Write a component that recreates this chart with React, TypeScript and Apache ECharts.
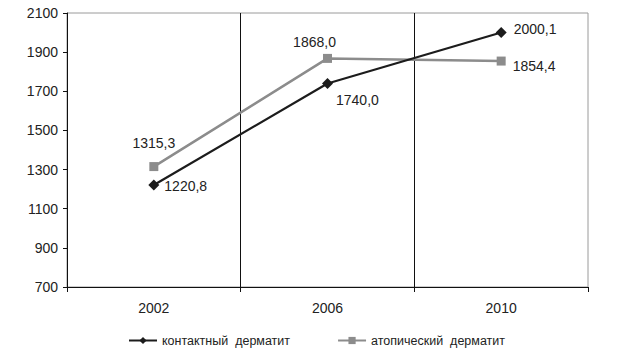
import React, { useEffect, useRef } from "react";
import * as echarts from "echarts";

const years = ["2002", "2006", "2010"];
const contactValues = [1220.8, 1740.0, 2000.1];
const atopicValues = [1315.3, 1868.0, 1854.4];
const seriesNames = ["контактный  дерматит", "атопический  дерматит"];
const yMin = 700;
const yMax = 2100;
const yStep = 200;

const fmt = (v: number) => v.toFixed(1).replace(".", ",");

export default function App() {
  const ref = useRef<HTMLDivElement>(null);
  useEffect(() => {
    if (!ref.current) return;
    const chart = echarts.init(ref.current, undefined, { renderer: "svg" });
    const black = "#1c1c1c";
    const gray = "#8c8c8c";
    const font = "'Liberation Sans', Arial, sans-serif";
    const contactLabels = [
      { position: "right", offset: [0, 1] },
      { position: "right", offset: [-2, 17] },
      { position: "right", offset: [2, -4] },
    ];
    const atopicLabels = [
      { position: "top", offset: [0, -7] },
      { position: "top", offset: [-13, 0] },
      { position: "right", offset: [2, 5] },
    ];
    const mk = (vals: number[], labels: any[]) =>
      vals.map((v, i) => ({
        value: v - yMin,
        orig: v,
        label: { ...labels[i] },
      }));
    chart.setOption({
      animation: false,
      backgroundColor: "#ffffff",
      textStyle: { fontFamily: font },
      grid: {
        left: 67,
        right: 32,
        top: 13,
        bottom: 69,
        show: true,
        borderColor: "#9a9a9a",
        borderWidth: 1,
      },
      legend: {
        left: 128,
        bottom: 9,
        padding: 0,
        itemWidth: 28,
        itemHeight: 9,
        itemGap: 47,
        textStyle: { fontSize: 12.5, color: "#222", fontFamily: font },
        data: seriesNames,
      },
      xAxis: {
        type: "category",
        data: years,
        boundaryGap: true,
        axisLine: { lineStyle: { color: "#111", width: 1 } },
        axisTick: { show: true, length: 5, lineStyle: { color: "#111" } },
        axisLabel: { color: "#222", fontSize: 14, margin: 14, fontFamily: font },
        splitLine: {
          show: true,
          showMinLine: false,
          showMaxLine: false,
          lineStyle: { color: "#111", width: 1 },
        },
      },
      yAxis: {
        type: "value",
        min: 0,
        max: yMax - yMin,
        interval: yStep,
        axisLine: { show: true, lineStyle: { color: "#111", width: 1 } },
        axisTick: { show: true, length: 4, lineStyle: { color: "#111" } },
        axisLabel: {
          color: "#222",
          fontSize: 14,
          margin: 9,
          fontFamily: font,
          formatter: (v: number) => String(v + yMin),
        },
        splitLine: { show: false },
      },
      series: [
        {
          name: seriesNames[0],
          type: "line",
          data: mk(contactValues, contactLabels),
          symbol: "diamond",
          symbolSize: 11,
          color: black,
          lineStyle: { color: black, width: 2.2 },
          itemStyle: { color: black },
          z: 3,
          label: {
            show: true,
            color: "#222",
            fontSize: 14,
            fontFamily: font,
            formatter: (p: any) => fmt(p.data.orig),
          },
        },
        {
          name: seriesNames[1],
          type: "line",
          data: mk(atopicValues, atopicLabels),
          symbol: "rect",
          symbolSize: 9,
          color: gray,
          lineStyle: { color: gray, width: 2.5 },
          itemStyle: { color: gray },
          z: 2,
          label: {
            show: true,
            color: "#222",
            fontSize: 14,
            fontFamily: font,
            formatter: (p: any) => fmt(p.data.orig),
          },
        },
      ],
    });
    return () => chart.dispose();
  }, []);
  return <div ref={ref} style={{ width: 620, height: 356, position: "absolute", left: 0, top: 0 }} />;
}
